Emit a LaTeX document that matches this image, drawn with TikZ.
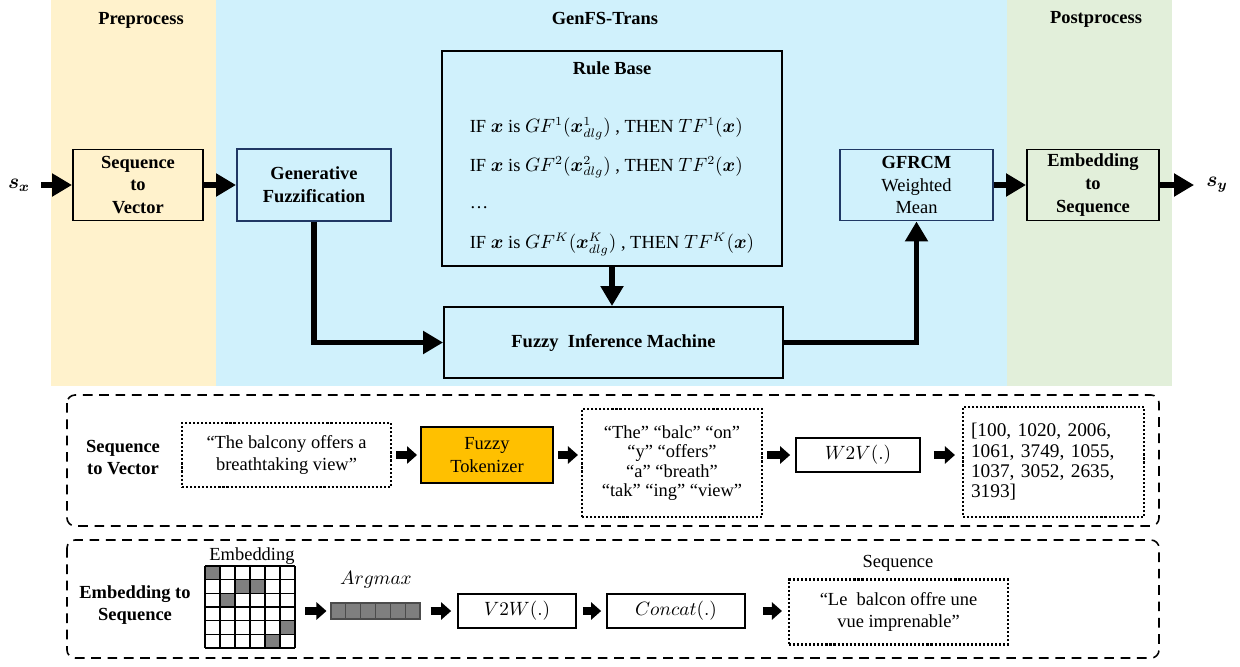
\documentclass[tikz,border=0pt]{standalone}
\usepackage{fontspec}
\usepackage{amsmath}
\setmainfont{Liberation Serif}
\usetikzlibrary{arrows.meta,positioning}

\definecolor{prefill}{HTML}{FFF2CC}
\definecolor{genfill}{HTML}{D0F1FC}
\definecolor{postfill}{HTML}{E2EFDA}
\definecolor{tokfill}{HTML}{FFC000}
\definecolor{darkblue}{HTML}{203864}
\definecolor{cellgray}{HTML}{7F7F7F}

\tikzset{
  block/.style={draw, line width=1.1pt, align=center, inner sep=0pt, font=\fontsize{10.5}{13}\selectfont\bfseries},
  bluebox/.style={block, draw=darkblue, fill=genfill},
  title/.style={inner sep=0pt, font=\fontsize{10.5}{13}\selectfont\bfseries},
  dotbox/.style={draw, line width=1.2pt, dash pattern=on 1.2pt off 1.1pt, align=center, inner sep=0pt},
  fnbox/.style={draw, line width=1pt, inner sep=0pt},
  panel/.style={draw, line width=0.9pt, dash pattern=on 5.5pt off 3.8pt, rounded corners=0.16cm},
  bigarrow/.style={line width=3.3pt, -{Triangle[length=0.4cm,width=0.44cm]}},
  fatarrow/.style={line width=4.5pt, -{Triangle[length=0.2cm,width=0.34cm]}},
}

\begin{document}
\begin{tikzpicture}[x=0.02cm,y=-0.02cm,font=\fontsize{10.5}{13}\selectfont]
%\draw[help lines] (0,0) grid[xstep=50,ystep=50] (1240,666); %background grid
\useasboundingbox (0,0) rectangle (1240,666);

% stage bands
\fill[prefill] (51,0) rectangle (216,386);
\fill[genfill] (216,0) rectangle (1007,386);
\fill[postfill] (1007,0) rectangle (1172,386);

\node[title] (pretitle) at (141,20) {Preprocess};
\node[title] (gentitle) at (605,18) {GenFS-Trans};
\node[title] (posttitle) at (1096,19) {Postprocess};

\node[block, fill=prefill, minimum width=2.6cm, minimum height=1.42cm] (s2v) at (138,185) {Sequence\\to\\Vector};
\node[bluebox, minimum width=3.08cm, minimum height=1.44cm] (genfz) at (314,185) {Generative\\Fuzzification};

\node[draw, line width=1.1pt, align=center, inner sep=0pt, minimum width=6.8cm, minimum height=4.3cm] (rules) at (612,158.5)
  {\textbf{Rule Base}\\[23pt]
   \begin{tabular}{@{}l@{}}
   IF $\boldsymbol{x}$ is $GF^{1}(\boldsymbol{x}^{1}_{dlg})$ , THEN $TF^{1}(\boldsymbol{x})$\\[9pt]
   IF $\boldsymbol{x}$ is $GF^{2}(\boldsymbol{x}^{2}_{dlg})$ , THEN $TF^{2}(\boldsymbol{x})$\\[8pt]
   \ldots\\[10pt]
   IF $\boldsymbol{x}$ is $GF^{K}(\boldsymbol{x}^{K}_{dlg})$ , THEN $TF^{K}(\boldsymbol{x})$
   \end{tabular}};

\node[block, minimum width=6.78cm, minimum height=1.42cm] (fim) at (613.5,342.5) {Fuzzy\ \ Inference Machine};
\node[bluebox, minimum width=3.06cm, minimum height=1.42cm] (gfrcm) at (916.5,185) {GFRCM\\\textnormal{Weighted}\\\textnormal{Mean}};
\node[block, fill=postfill, minimum width=2.64cm, minimum height=1.42cm] (e2s) at (1093,185) {Embedding\\to\\Sequence};

\node[font=\fontsize{12}{14}\selectfont] (sx) at (19,185) {$\boldsymbol{s_x}$};
\node[font=\fontsize{12}{14}\selectfont] (sy) at (1217,185) {$\boldsymbol{s_y}$};

\draw[bigarrow, shorten <=0.1cm] (sx.east) -- (s2v.west);
\draw[bigarrow] (s2v.east) -- (genfz.west);
\draw[bigarrow] (genfz.south) |- (fim.west);
\draw[bigarrow] (rules.south) -- (rules.south |- fim.north);
\draw[bigarrow] (fim.east) -| (gfrcm.south);
\draw[bigarrow] (gfrcm.east) -- (e2s.west);
\draw[bigarrow, shorten >=0.12cm] (e2s.east) -- (sy.west);

% sequence to vector
\draw[panel] (67,395) rectangle (1159,526);
\node[title, align=center, font=\fontsize{10.5}{12.5}\selectfont\bfseries] (s2vlabel) at (123,458) {Sequence\\to Vector};
\node[dotbox, minimum width=4.18cm, minimum height=1.28cm] (sent) at (286.5,455) {“The balcony offers a\\breathtaking view”};
\node[draw, line width=1.1pt, fill=tokfill, align=center, inner sep=0pt, minimum width=2.64cm, minimum height=1.12cm] (tok) at (487,455) {Fuzzy\\Tokenizer};
\node[dotbox, minimum width=3.6cm, minimum height=2.16cm, font=\fontsize{10.5}{11}\selectfont] (toks) at (672,463) {“The” “balc” “on”\\“y” “offers”\\“a” “breath”\\“tak” “ing” “view”};
\node[fnbox, minimum width=2.48cm, minimum height=0.68cm] (w2v) at (858,455) {$W2V(.)$};
\node[dotbox, align=left, text width=3.3cm, inner xsep=0.16cm, minimum height=2.2cm, font=\fontsize{11}{11.6}\selectfont] (ids) at (1053.5,462) {[100, 1020, 2006,\\1061, 3749, 1055,\\1037, 3052, 2635,\\3193]};

\draw[fatarrow, shorten <=0.08cm, shorten >=0.06cm] (sent.east) -- (tok.west);
\draw[fatarrow, shorten <=0.08cm, shorten >=0.06cm] (tok.east) -- (tok.east -| toks.west);
\draw[fatarrow, shorten <=0.08cm, shorten >=0.1cm] (w2v.west -| toks.east) -- (w2v.west);
\draw[fatarrow, shorten <=0.26cm, shorten >=0.14cm] (w2v.east) -- (w2v.east -| ids.west);

% embedding to sequence
\draw[panel] (67,540) rectangle (1159,658);
\node[title, align=center, font=\fontsize{10.5}{12.5}\selectfont\bfseries] (e2slabel) at (135,605) {Embedding to\\Sequence};

\node[inner sep=0pt, minimum width=1.8cm, minimum height=1.64cm] (emb) at (250,607) {};
\foreach \c/\r in {0/0,2/1,3/1,1/2,5/4,4/5}
  \fill[cellgray] ({205+15*\c},{566+13.667*\r}) rectangle ++(15,13.667);
\foreach \i in {0,...,6} {
  \draw[line width=0.6pt] ({205+15*\i},566) -- ({205+15*\i},648);
  \draw[line width=0.6pt] (205,{566+13.667*\i}) -- (295,{566+13.667*\i});
}
\node[inner sep=0pt] (emblabel) at (252,556) {Embedding};

\node[fill=cellgray, draw=black!70, line width=0.6pt, inner sep=0pt, minimum width=1.78cm, minimum height=0.32cm] (amax) at (375.5,611) {};
\foreach \i in {1,...,5}
  \draw[black!70, line width=0.6pt] ({331+14.83*\i},603) -- ++(0,16);
\node[inner sep=0pt] (amaxlabel) at (376,580) {$Argmax$};

\node[fnbox, minimum width=2.36cm, minimum height=0.68cm] (v2w) at (517,611) {$V2W(.)$};
\node[fnbox, minimum width=2.76cm, minimum height=0.68cm] (concat) at (676,611) {$Concat(.)$};
\node[dotbox, minimum width=4.38cm, minimum height=1.3cm] (outseq) at (898.5,612) {“Le\ \ balcon offre une\\vue imprenable”};
\node[inner sep=0pt] (seqlabel) at (898,563) {Sequence};

\draw[fatarrow, shorten <=0.2cm, shorten >=0.08cm] (amax.west -| emb.east) -- (amax.west);
\draw[fatarrow, shorten <=0.2cm, shorten >=0.12cm] (amax.east) -- (v2w.west);
\draw[fatarrow, shorten <=0.12cm, shorten >=0.1cm] (v2w.east) -- (concat.west);
\draw[fatarrow, shorten <=0.34cm, shorten >=0.12cm] (concat.east) -- (concat.east -| outseq.west);
\end{tikzpicture}
\end{document}
